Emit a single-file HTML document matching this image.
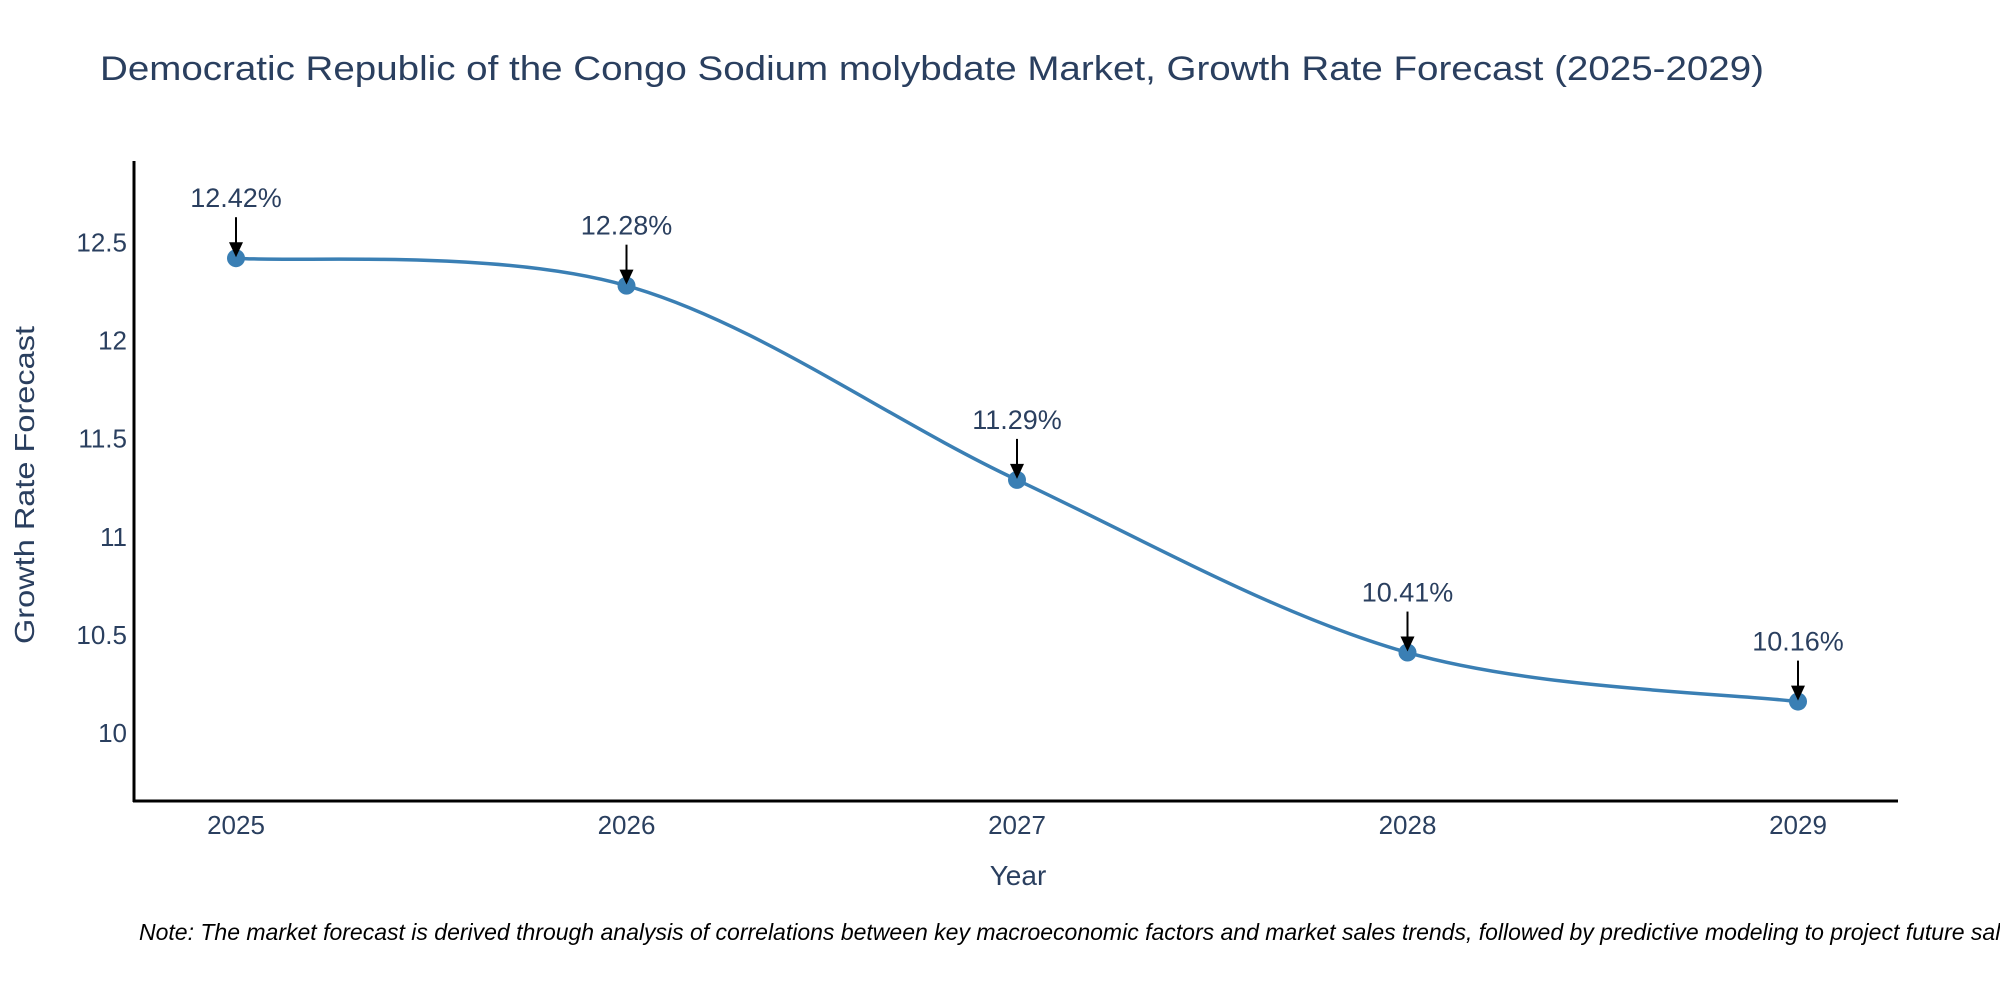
<!DOCTYPE html>
<html><head><meta charset="utf-8"><style>
html,body{margin:0;padding:0;background:#fff;width:2000px;height:1000px;overflow:hidden}
svg{display:block;font-family:"Liberation Sans","DejaVu Sans",sans-serif}
</style></head><body>
<svg id="chart" width="2000" height="1000" viewBox="0 0 2000 1000" xmlns="http://www.w3.org/2000/svg">
<text x="100" y="80" font-size="34" fill="#2a3f5f" textLength="1664" lengthAdjust="spacingAndGlyphs">Democratic Republic of the Congo Sodium molybdate Market, Growth Rate Forecast (2025-2029)</text>
<g id="yticks"></g>
<g id="xticks"></g>
<line x1="134" y1="161" x2="134" y2="802" stroke="#000" stroke-width="3"/>
<line x1="133" y1="801" x2="1898" y2="801" stroke="#000" stroke-width="3"/>
<path id="line" fill="none" stroke="#3a7fb4" stroke-width="3.5"/>
<g id="marks"></g>
<g id="annots"></g>
<text x="1018" y="885" font-size="28" fill="#2a3f5f" text-anchor="middle">Year</text>
<text transform="translate(34,485) rotate(-90)" font-size="28" fill="#2a3f5f" text-anchor="middle" textLength="318" lengthAdjust="spacingAndGlyphs">Growth Rate Forecast</text>
<text x="139" y="940" font-size="23" font-style="italic" fill="#000">Note: The market forecast is derived through analysis of correlations between key macroeconomic factors and market sales trends, followed by predictive modeling to project future sales.</text>
</svg>
<script>
const years = [2025, 2026, 2027, 2028, 2029];
const values = [12.42, 12.28, 11.29, 10.41, 10.16];
const labels = ["12.42%", "12.28%", "11.29%", "10.41%", "10.16%"];
const yTickValues = [10, 10.5, 11, 11.5, 12, 12.5];
const yTickLabels = ["10", "10.5", "11", "11.5", "12", "12.5"];

const NS = "http://www.w3.org/2000/svg";
function xs(v){ return 236 + (v - 2025) * 390.5; }
function ys(v){ return 733 - (v - 10) * 196.2; }
function mk(tag, attrs, parent){ const e = document.createElementNS(NS, tag); for (const k in attrs) e.setAttribute(k, attrs[k]); parent.appendChild(e); return e; }

const yt = document.getElementById('yticks');
yTickValues.forEach((v, i) => {
  const t = mk('text', {x: 127, y: ys(v) + 9, 'font-size': 26, fill: '#2a3f5f', 'text-anchor': 'end'}, yt);
  
  
  t.textContent = yTickLabels[i];
});
const xt = document.getElementById('xticks');
years.forEach(y => {
  const t = mk('text', {x: xs(y), y: 834, 'font-size': 26, fill: '#2a3f5f', 'text-anchor': 'middle'}, xt);
  
  
  t.textContent = String(y);
});

const pts = years.map((y, i) => [xs(y), ys(values[i])]);
let d = 'M' + pts[0][0] + ',' + pts[0][1];
const k = 0.5;
for (let i = 0; i < pts.length - 1; i++) {
  const p0 = pts[i - 1] || pts[i], p1 = pts[i], p2 = pts[i + 1], p3 = pts[i + 2] || pts[i + 1];
  const c1 = [p1[0] + (p2[0] - p0[0]) * k / 3, p1[1] + (p2[1] - p0[1]) * k / 3];
  const c2 = [p2[0] - (p3[0] - p1[0]) * k / 3, p2[1] - (p3[1] - p1[1]) * k / 3];
  d += ' C' + c1.join(',') + ' ' + c2.join(',') + ' ' + p2.join(',');
}
document.getElementById('line').setAttribute('d', d);

const mg = document.getElementById('marks');
const ag = document.getElementById('annots');
pts.forEach((p, i) => {
  const c = mk('circle', {cx: p[0], cy: p[1], r: 9, fill: '#3a7fb4'}, mg);
  
  
  const l = mk('line', {x1: p[0], y1: p[1] - 41, x2: p[0], y2: p[1] - 14, stroke: '#000', 'stroke-width': 2}, ag);
  
  
  const h = mk('polygon', {points: (p[0]-7)+','+(p[1]-16)+' '+(p[0]+7)+','+(p[1]-16)+' '+p[0]+','+(p[1]-1)}, ag);
  
  
  const t = mk('text', {x: p[0], y: p[1] - 51, 'font-size': 27, fill: '#2a3f5f', 'text-anchor': 'middle'}, ag);
  
  
  t.textContent = labels[i];
});
</script>
</body></html>
